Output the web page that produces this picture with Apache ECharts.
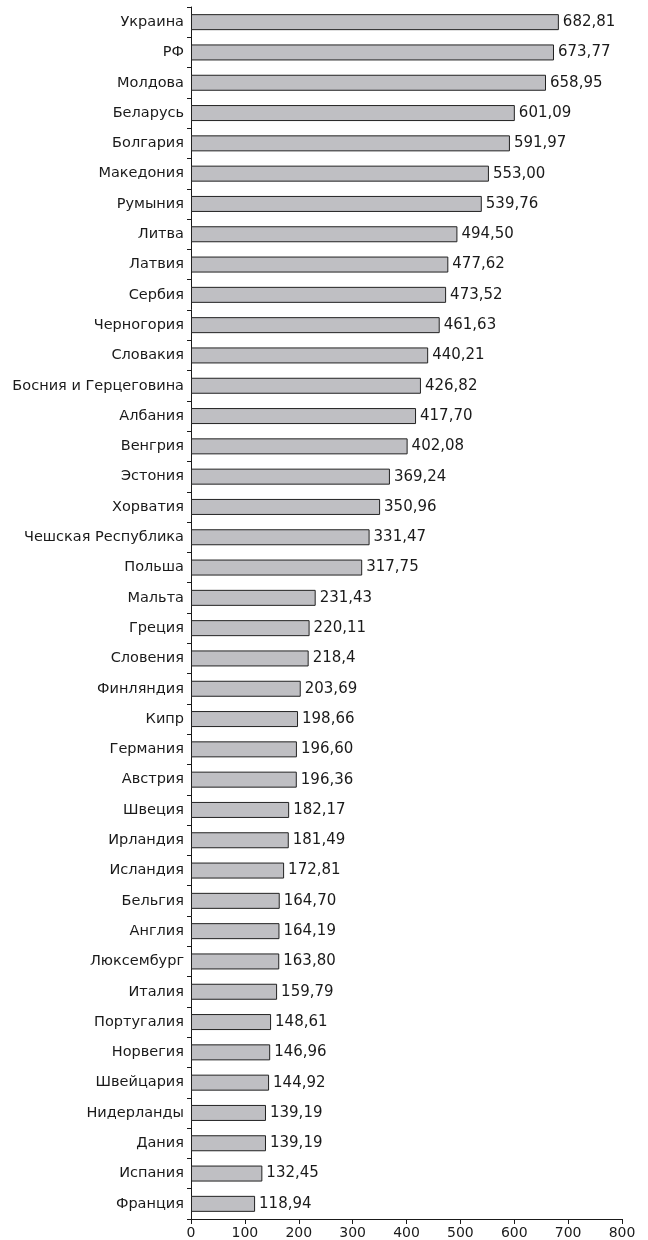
<!DOCTYPE html>
<html>
<head>
<meta charset="utf-8">
<script src="https://cdn.jsdelivr.net/npm/echarts@6/dist/echarts.min.js"></script>
<style>
  html, body { margin: 0; padding: 0; background: #fff; }
  #chart { width: 648px; height: 1240px; }
</style>
</head>
<body>
<div id="chart"></div>
<script>
// Countries, top to bottom
const countries = [
  'Украина', 'РФ', 'Молдова', 'Беларусь', 'Болгария', 'Македония', 'Румыния',
  'Литва', 'Латвия', 'Сербия', 'Черногория', 'Словакия', 'Босния и Герцеговина',
  'Албания', 'Венгрия', 'Эстония', 'Хорватия', 'Чешская Республика', 'Польша',
  'Мальта', 'Греция', 'Словения', 'Финляндия', 'Кипр', 'Германия', 'Австрия',
  'Швеция', 'Ирландия', 'Исландия', 'Бельгия', 'Англия', 'Люксембург', 'Италия',
  'Португалия', 'Норвегия', 'Швейцария', 'Нидерланды', 'Дания', 'Испания', 'Франция'
];

// Values as printed next to each bar (decimal comma)
const valueText = [
  '682,81', '673,77', '658,95', '601,09', '591,97', '553,00', '539,76',
  '494,50', '477,62', '473,52', '461,63', '440,21', '426,82',
  '417,70', '402,08', '369,24', '350,96', '331,47', '317,75',
  '231,43', '220,11', '218,4', '203,69', '198,66', '196,60', '196,36',
  '182,17', '181,49', '172,81', '164,70', '164,19', '163,80', '159,79',
  '148,61', '146,96', '144,92', '139,19', '139,19', '132,45', '118,94'
];

// Axis range
const axisMin = 0;
const axisMax = 800;
const axisStep = 100;

const values = valueText.map(t => parseFloat(t.replace(',', '.')));

const FONT = 'DejaVu Sans';
const INK = '#1a1a1a';
const chart = echarts.init(document.getElementById('chart'), null, { renderer: 'canvas' });

chart.setOption({
  animation: false,
  backgroundColor: '#ffffff',
  grid: { left: 191, right: 26, top: 7, bottom: 21, containLabel: false },
  xAxis: {
    type: 'value',
    min: axisMin,
    max: axisMax,
    interval: axisStep,
    axisLine: { show: true, lineStyle: { color: INK, width: 1 } },
    axisTick: { show: true, length: 5, lineStyle: { color: INK } },
    splitLine: { show: false },
    axisLabel: { color: INK, fontFamily: FONT, fontSize: 14, margin: 7 }
  },
  yAxis: {
    type: 'category',
    data: countries,
    inverse: true,
    axisLine: { show: true, lineStyle: { color: INK, width: 1 } },
    axisTick: { show: true, length: 4, alignWithLabel: false, lineStyle: { color: INK } },
    axisLabel: { color: INK, fontFamily: FONT, fontSize: 14.5, margin: 7 },
    splitLine: { show: false }
  },
  series: [{
    type: 'bar',
    data: values,
    barWidth: 16,
    itemStyle: { color: '#bfbfc3', borderColor: '#222', borderWidth: 1 },
    label: {
      show: true,
      position: 'right',
      distance: 4,
      color: INK,
      fontFamily: FONT,
      fontSize: 15,
      formatter: p => valueText[p.dataIndex]
    }
  }]
});
</script>
</body>
</html>
